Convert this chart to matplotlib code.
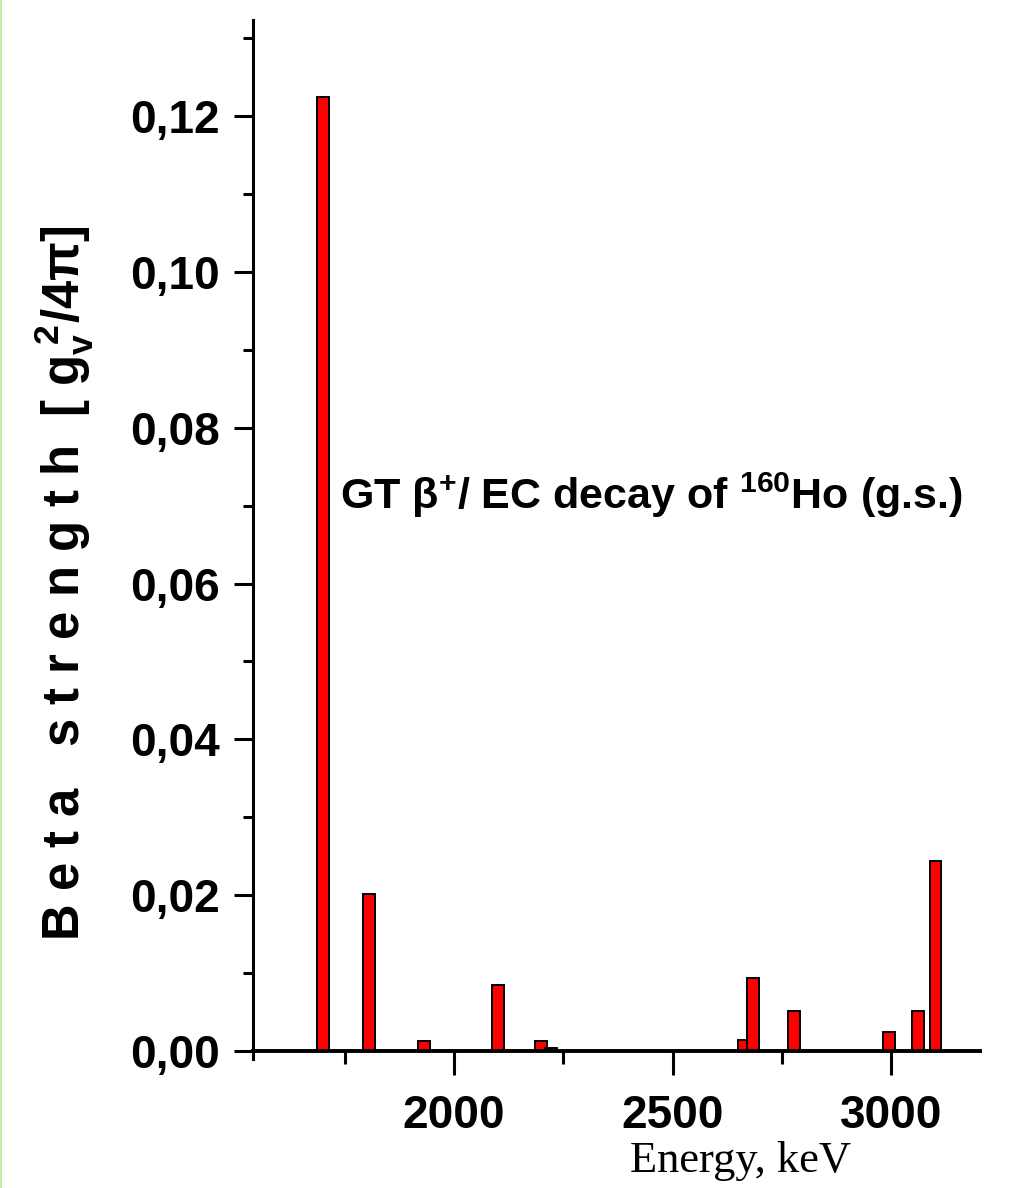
import matplotlib
matplotlib.use("Agg")
import matplotlib.pyplot as plt
from matplotlib.lines import Line2D

plt.rcParams['font.family'] = ['Liberation Sans', 'DejaVu Sans']
plt.rcParams['mathtext.fontset'] = 'custom'
plt.rcParams['mathtext.rm'] = 'Liberation Sans'
plt.rcParams['mathtext.bf'] = 'Liberation Sans:bold'
plt.rcParams['mathtext.it'] = 'Liberation Sans:italic'

# GT beta strength per level
energy = [1700, 1805, 1932, 2100, 2199, 2221, 2663, 2684, 2778, 2995, 3062, 3101]
strength = [0.1224, 0.0202, 0.00125, 0.0085, 0.00125, 0.0004,
            0.0015, 0.0094, 0.0051, 0.0024, 0.0051, 0.0244]

x_ticks = [2000, 2500, 3000]
x_labels = ["2000", "2500", "3000"]
y_ticks = [0.00, 0.02, 0.04, 0.06, 0.08, 0.10, 0.12]
y_labels = ["0,00", "0,02", "0,04", "0,06", "0,08", "0,10", "0,12"]

fig = plt.figure(figsize=(10.10, 11.88), dpi=100)
ax = fig.add_axes([253/1010, 1 - 1059/1188, (980 - 253)/1010, (1059 - 20)/1188])

ax.bar(energy, strength, width=27, color="#ff0000", edgecolor="black",
       linewidth=1.4, zorder=3)

ax.set_xlim(1540, 3203)
ax.set_ylim(-0.001, 0.1323)

ax.spines['top'].set_visible(False)
ax.spines['right'].set_visible(False)
ax.spines['bottom'].set_position(('data', 0))
ax.spines['bottom'].set_linewidth(2.8)
ax.spines['left'].set_linewidth(2.2)
ax.spines['bottom'].set_zorder(4)

ax.set_xticks(x_ticks)
ax.set_xticklabels(x_labels)
ax.set_xticks([1750, 2250, 2750], minor=True)
ax.set_yticks(y_ticks)
ax.set_yticklabels(y_labels)
ax.set_yticks([0.01, 0.03, 0.05, 0.07, 0.09, 0.11, 0.13], minor=True)

ax.tick_params(axis='x', which='major', length=17, width=2.2, pad=14, labelsize=33)
ax.tick_params(axis='x', which='minor', length=9, width=2.2)
ax.tick_params(axis='y', which='major', length=14, width=2.2, pad=10, labelsize=33)
ax.tick_params(axis='y', which='minor', length=7, width=2.2)
for lab in ax.get_xticklabels() + ax.get_yticklabels():
    lab.set_fontweight('bold')

ax.text(1739, 0.0713,
        r"GT β$^\mathbf{+}$/ EC decay of $^\mathbf{160}$Ho (g.s.)",
        fontsize=31, fontweight='bold', va='center', ha='left')

fig.text(64/1010, 1 - 583/1188,
         r"B e t a   s t r e n g t h  [ g$_\mathbf{v}^\mathbf{\ 2}$/4π]",
         rotation=90, fontsize=36.5, fontweight='bold', ha='center', va='center')

fig.text(740/1010, 1 - 1172/1188, "Energy, keV", family='Liberation Serif',
         fontsize=32, ha='center', va='baseline')

# thin green strip at the left edge of the page
fig.add_artist(Line2D([0.001, 0.001], [0, 1], transform=fig.transFigure,
                      color="#c8eaa8", linewidth=1.5))

fig.savefig("out.png", dpi=100)
